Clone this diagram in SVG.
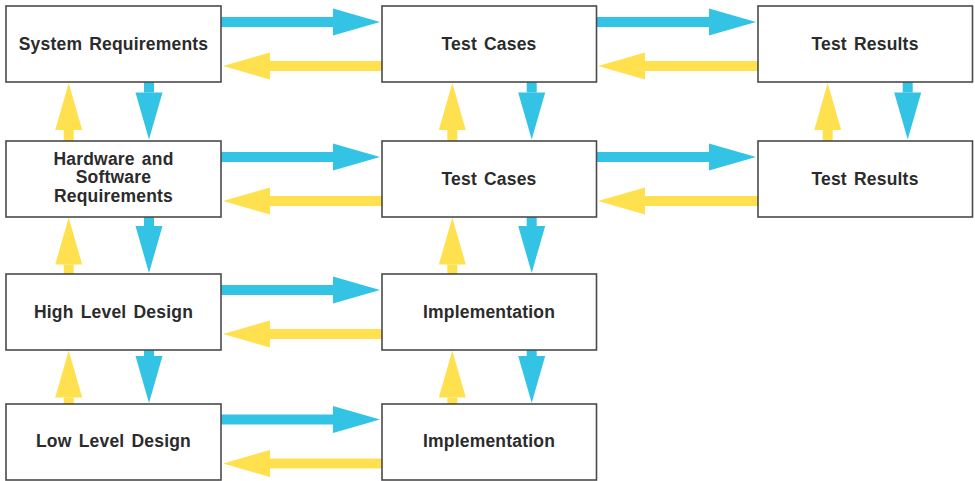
<svg xmlns="http://www.w3.org/2000/svg" width="975" height="481" viewBox="0 0 975 481">
  <style>
    .box rect { fill: #ffffff; stroke: #4a4a4a; stroke-width: 1.6; }
    .box text { font-family: "Liberation Sans", Arial, sans-serif; font-weight: bold; font-size: 17.5px; fill: #2b2b2b; text-anchor: middle; letter-spacing: 0.2px; word-spacing: 2px; }
    .fwd { stroke: #33c4e5; stroke-width: 10; fill: none; marker-end: url(#headBlue); }
    .back { stroke: #ffe14f; stroke-width: 10; fill: none; marker-end: url(#headYellow); }
  </style>
  <defs>
    <marker id="headBlue" markerUnits="userSpaceOnUse" markerWidth="48" markerHeight="28" refX="0" refY="13.5" orient="auto" overflow="visible">
      <path d="M0,0 L47,13.5 L0,27 Z" fill="#33c4e5"/>
    </marker>
    <marker id="headYellow" markerUnits="userSpaceOnUse" markerWidth="48" markerHeight="28" refX="0" refY="13.5" orient="auto" overflow="visible">
      <path d="M0,0 L47,13.5 L0,27 Z" fill="#ffe14f"/>
    </marker>
  </defs>

  <g id="connectors">
    <!-- row 1 horizontal -->
    <line class="fwd" x1="221" y1="22" x2="333" y2="22"/>
    <line class="back" x1="382" y1="66" x2="270" y2="66"/>
    <line class="fwd" x1="597" y1="22" x2="709" y2="22"/>
    <line class="back" x1="758" y1="66" x2="645" y2="66"/>
    <!-- row 2 horizontal -->
    <line class="fwd" x1="221" y1="157" x2="333" y2="157"/>
    <line class="back" x1="382" y1="201" x2="270" y2="201"/>
    <line class="fwd" x1="597" y1="157" x2="709" y2="157"/>
    <line class="back" x1="758" y1="201" x2="645" y2="201"/>
    <!-- row 3 horizontal -->
    <line class="fwd" x1="221" y1="290" x2="333" y2="290"/>
    <line class="back" x1="382" y1="334" x2="270" y2="334"/>
    <!-- row 4 horizontal -->
    <line class="fwd" x1="221" y1="419.5" x2="333" y2="419.5"/>
    <line class="back" x1="382" y1="463.5" x2="270" y2="463.5"/>

    <!-- column 1 vertical -->
    <line class="back" x1="68.7" y1="141" x2="68.7" y2="130"/>
    <line class="fwd" x1="149" y1="82" x2="149" y2="92.5"/>
    <line class="back" x1="68.7" y1="274" x2="68.7" y2="264.5"/>
    <line class="fwd" x1="149" y1="217" x2="149" y2="226"/>
    <line class="back" x1="68.7" y1="404" x2="68.7" y2="397.5"/>
    <line class="fwd" x1="149" y1="350" x2="149" y2="356"/>

    <!-- column 2 vertical -->
    <line class="back" x1="452.3" y1="141" x2="452.3" y2="130"/>
    <line class="fwd" x1="531.7" y1="82" x2="531.7" y2="92.5"/>
    <line class="back" x1="452.3" y1="274" x2="452.3" y2="264.5"/>
    <line class="fwd" x1="531.7" y1="217" x2="531.7" y2="226"/>
    <line class="back" x1="452.3" y1="404" x2="452.3" y2="397.5"/>
    <line class="fwd" x1="531.7" y1="350" x2="531.7" y2="356"/>

    <!-- column 3 vertical -->
    <line class="back" x1="827.7" y1="141" x2="827.7" y2="130"/>
    <line class="fwd" x1="907.7" y1="82" x2="907.7" y2="92.5"/>
  </g>

  <g id="system-requirements" class="box">
    <rect x="6" y="6" width="215" height="76"/>
    <text x="113.5" y="49.5">System Requirements</text>
  </g>
  <g id="test-cases-1" class="box">
    <rect x="382" y="6" width="214.5" height="76"/>
    <text x="489" y="49.5">Test Cases</text>
  </g>
  <g id="test-results-1" class="box">
    <rect x="758" y="6" width="214.5" height="76"/>
    <text x="865" y="49.5">Test Results</text>
  </g>

  <g id="hw-sw-requirements" class="box">
    <rect x="6" y="141" width="215" height="76"/>
    <text x="113.5" y="165">Hardware and</text>
    <text x="113.5" y="183.3">Software</text>
    <text x="113.5" y="201.6">Requirements</text>
  </g>
  <g id="test-cases-2" class="box">
    <rect x="382" y="141" width="214.5" height="76"/>
    <text x="489" y="184.5">Test Cases</text>
  </g>
  <g id="test-results-2" class="box">
    <rect x="758" y="141" width="214.5" height="76"/>
    <text x="865" y="184.5">Test Results</text>
  </g>

  <g id="high-level-design" class="box">
    <rect x="6" y="274" width="215" height="76"/>
    <text x="113.5" y="317.5">High Level Design</text>
  </g>
  <g id="implementation-1" class="box">
    <rect x="382" y="274" width="214.5" height="76"/>
    <text x="489" y="317.5">Implementation</text>
  </g>

  <g id="low-level-design" class="box">
    <rect x="6" y="404" width="215" height="76"/>
    <text x="113.5" y="447">Low Level Design</text>
  </g>
  <g id="implementation-2" class="box">
    <rect x="382" y="404" width="214.5" height="76"/>
    <text x="489" y="447">Implementation</text>
  </g>
</svg>
